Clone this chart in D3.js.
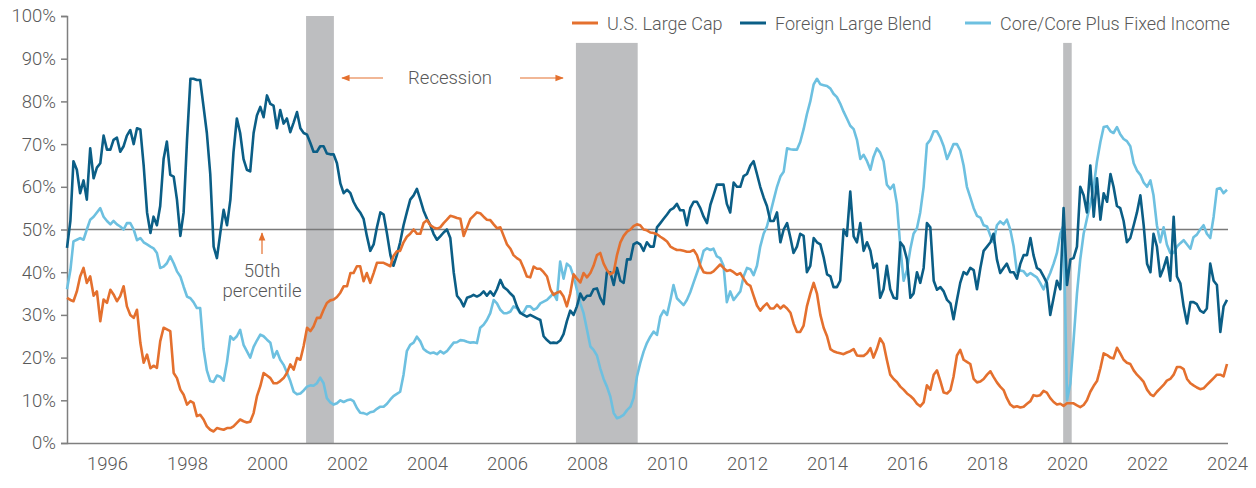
<!DOCTYPE html>
<html><head><meta charset="utf-8">
<script src="https://cdn.jsdelivr.net/npm/d3@7"></script>
<style>
html,body{margin:0;padding:0;background:#fff;}
svg{display:block;font-family:Roboto,"Liberation Sans",sans-serif;font-weight:300;}
</style></head>
<body><svg id="chart" width="1256" height="488"></svg>
<script>
// ---------- DATA ----------
const firstMonth = "1995-01";
const xTickYears = [1996,1998,2000,2002,2004,2006,2008,2010,2012,2014,2016,2018,2020,2022,2024];
const yTicks = [0,10,20,30,40,50,60,70,80,90,100];
const seriesNames = ["U.S. Large Cap","Foreign Large Blend","Core/Core Plus Fixed Income"];

const usLargeCap = [
34,33.5,33.2,35.5,39,41,37.5,39,34.5,35.5,28.5,33.6,
32.8,35.9,34.8,33.2,34.4,36.7,32,30,29.3,31.2,23.4,18.8,
20.7,17.5,18.1,17.6,23.8,27,26.6,26.2,16.4,15.2,12.5,11.3,
9,9.8,9.4,6.3,6.6,5.5,3.9,3.1,2.7,3.5,3.3,3.1,
3.5,3.5,3.9,4.7,5.5,5.1,4.8,5,7,10.9,13.3,16.4,
15.8,15.2,14,14,14.5,15.2,16.4,18.4,17.2,19.9,19.5,22.7,
27,26.2,27.3,29.3,29.3,31.2,32.8,33.4,33.6,34.2,35.2,36.7,
36.7,39.8,39.8,41.4,41.4,37.9,39.8,37.5,39.8,42.2,42.2,42.2,
41.8,41.4,43.8,44.9,45,47,48.3,49,50,49,49,51.5,
52.2,51,50.5,50.2,50.5,51.5,52.3,53.2,53,52.7,52.5,48.5,
50.5,52.5,53.2,54,53.8,53,52.3,52.2,51.2,50.3,50.5,48.5,
46.5,45.5,44,43.3,42.8,41,39,38.8,41.3,40.8,40.8,40,
39,36,34.7,35.2,35.5,34.3,32,35,39.5,38.5,37.6,39.8,
38.8,39.8,41.5,44,44.5,42,40.5,39.5,40,44,47,48.5,
49.5,50,50.8,51.2,51,50,49.8,49.3,49.2,48.9,48.3,47.8,
47.2,46,45.6,45.2,45.2,45,44.8,44.8,45.2,44,41.5,40,
39.8,39.8,40.2,41,41.8,41,40.3,40.5,40,39.4,39.8,38.5,
37.3,36.8,34.5,32.2,31,32,32.7,31.5,31.5,32.4,31.5,32.2,
31.5,30.5,28,26,26,27.5,32,35,37.5,35,30,27,
25,22,21.5,21.2,21,20.8,21.2,21.5,22,20.5,20.4,20.4,
21,22.2,20,22,24.5,23.2,19.5,16,15,14.3,13.2,12.5,
11.6,11,10.3,9.2,8.6,9.5,13.5,12.5,16,17,14.5,11.8,
11.6,12.4,15.5,20.5,21.8,19.5,19,18.5,15,14.2,14.4,15,
16,16.8,15.5,14.2,13.2,12.4,10.5,9,8.4,8.6,8.3,8.5,
9.2,9.8,11.2,11,11.2,12.2,11.8,10.5,9.6,9,9.2,8.7,
9.3,9.3,9.3,8.8,8.4,8.9,10,12,13.4,14.5,17.5,21,
20.6,20,19.8,22.3,21,19.5,18.8,18.5,17,16,15.2,14.3,
12.5,11.4,11,12,12.8,13.6,14.6,15,16,17.8,17.8,17.3,
15,14,13.5,13,12.6,12.8,13.6,14.4,15.2,16,16,15.6,
18.5];

const foreignLargeBlend = [
45.7,52,66,64,58.5,61.5,57,69,62,64.5,65.5,72,
68.7,68.7,71,71.5,68.2,69.5,72,73.3,70,73.7,73.4,65,
54,49.2,53,51,55.5,66.5,70.6,62.8,62.4,57,48.5,54,
71,85.3,85.3,85,85,78.7,72.6,63,46,43.3,49.2,54.6,
51,57,68,76,72.6,66.5,64,63.6,72.6,76.7,78.7,76.3,
81.4,79.4,79,73.7,78,74.8,76,72.8,75.1,77.5,73.7,72.6,
72.2,70.2,68.2,68.2,69.5,69.5,67.8,67.6,67.6,65.5,60.8,58.5,
59.3,58.5,56.5,55,54,52.5,48.5,45,46.5,50.5,54,53.5,
49,44,41.5,44,47,51,54,57,58,59.5,57,54.4,
52.5,51,49,47.6,48.4,49.3,50,48,40,34.5,33.5,32,
34,34.3,34.7,34.3,34.7,35.5,34.5,35.5,34.5,36,38.2,36.5,
35.9,35,34.3,32,30.5,30,29.6,30,29.6,29.2,28.8,25,
24.1,23.4,23.5,23.4,24,25.5,28.5,31,30,32,35,33.5,
34.5,34.5,36,36.2,34,32.5,40,40,37,41,38,37.5,
43,43,46.5,47,46.5,45,47,46,46,50.5,51.5,52.5,
53.5,54.6,55,56,54.5,54.5,51,55,56.5,56.5,55,53,
51.5,55.8,58,60.5,60.5,60.5,56,54,61,60,60,62.5,
63,65,66,63,60,57.5,55.5,52,52,54,47,50,
51.5,48,44.5,46,49,48.5,40,41.5,48,47,46.5,43.5,
39.5,39,36.5,36.5,38,50,48.5,58.9,48.4,47,51.5,45,
47,45,41,42,34,36,41.5,36,34,33.8,47,46,
43,34,35,40,37.5,41,51.5,50.5,38,35.9,36.5,35.5,
33.5,32.7,29,33.5,37.5,40,39.5,41,40.5,36,41,45,
46,47,49,43,39.8,41,42,40,40,38.5,42,44,
44,48,44,41,40.5,39,37.5,30,34,38,36,55,
37,43,43.3,46,60,58,54,65,53,62,52.3,58.5,
56.5,63,60,55.5,55,52,47,48,51,54,58,51,
42,40,49,46,39,41,43.5,38,53,39,37.4,32,
28,33,33,32.5,31,30.5,31.5,42,38,37,26,32,
33.5];

const coreFixedIncome = [
36,40.5,47.2,47.6,48,47.6,50,52.3,53,54,55,53,
52,51.2,52,51.2,50.7,50,51.5,51.5,50,47.5,48,47,
46.5,46,45.6,44.5,41,41.3,42.1,43.7,42.1,40.2,39,36.6,
34.3,33.9,33,31.6,31.6,22,17,14.5,14.3,15.8,15.5,14.6,
19,25,24.2,25,26.5,23,21.5,20,22.5,24,25.4,25,
24.2,23.5,20,21.5,19.5,18.3,16.5,14.5,12,11.4,11.6,12.3,
13.2,13.5,13.4,14,15.3,14,10.5,9.5,9,9.3,10,9.6,
10,10.2,9.8,8.2,7.1,7,6.7,7.2,7.4,8,8.5,8.5,
9.2,10.2,11,11.5,12,16,21.5,23,23.5,24.9,23.8,22,
21.4,21,21.2,20.8,21.5,21,21.5,22.5,23.5,23.6,24.1,24,
23.7,23.5,23.6,23.4,27,27.7,28.8,30.4,33.5,32.7,31.2,30.4,
30.4,30.8,32,31.6,30.4,30.6,32,32,31.2,31.6,32.7,33.1,
33.5,34.3,35.1,33.5,42.5,38.5,42,41.3,39,35.9,32.7,30.4,
26.5,22.6,21.8,20.5,17.5,15,13.2,10.9,7,5.8,6.1,6.6,
7.7,8.5,10.5,15.5,18.7,21.4,23.4,24.9,26.1,25.3,29.6,31,
30,33.5,37,33.9,33.1,32.3,33.5,35.3,37.6,39.8,42.1,45,
45.6,45.2,45.5,43.7,43.3,41.5,33,35.5,33.5,34.5,35.5,39,
41,40.7,39.3,41.5,46,49,50.7,53.8,57,60,62.4,63.5,
69,68.8,68.7,68.7,70.5,73.5,77,80,84,85.3,84,83.8,
83.6,83,81.8,81,79.5,77.6,76,74.3,73.5,71,66.5,67.5,
66,64,67,69,68,66,60.5,59.5,60.5,56,46,38,
40.5,45.5,49,50.3,54,60,70,71,73,73,71.5,69.5,
66.5,68.3,70,70,68.5,65,60,57.5,55,53.2,52.8,51,
50.7,48.5,47,51,51.9,51.2,52.3,50,46,40,40.4,40.2,
39.2,39.8,39.3,38.8,37.5,36,38,39.8,42,44.5,49,51,
10,14,24,35,43,49,52.5,56,60,66,70.5,74,
74.2,73,72.6,74,72.3,71.2,70.7,69.5,65.5,63.8,62.8,61,
60,61.5,58,51,47,50.5,46.5,44.5,44.5,46,46.8,47.5,
46.5,45.5,48.2,48.8,50,51,49,48,53,59.5,59.7,58.5,
59.3];

const recessionStarts = ["2000-12-23","2007-09-22","2019-11-27"];
const recessionEnds   = ["2001-09-03","2009-04-08","2020-02-13"];
const recessionTops   = [100, 93.7, 93.7];
const referenceLevel = 50;

// ---------- CHART ----------
const colors = ["#E4702E","#0B5E86","#6DC0E0"];
const textColor = "#595959";
const axisColor = "#7f7f7f";
const svg = d3.select("#chart");
const mLeft = 67, mRight = 1227, mTop = 16, mBottom = 443;

const parseMonth = d3.timeParse("%Y-%m");
const parseDay = d3.timeParse("%Y-%m-%d");
const startMonth = parseMonth(firstMonth);
const monthDate = i => d3.timeMonth.offset(startMonth, i);

const x = d3.scaleTime().domain([new Date(1995,0,1), new Date(2024,0,1)]).range([mLeft, mRight]);
const y = d3.scaleLinear().domain([0,100]).range([mBottom, mTop]);

// recession bands
svg.append("g").selectAll("rect").data(recessionStarts.map((s,i)=>({s:parseDay(s), e:parseDay(recessionEnds[i]), t:recessionTops[i]})))
  .join("rect")
  .attr("x", d=>x(d.s)).attr("width", d=>x(d.e)-x(d.s))
  .attr("y", d=>y(d.t)).attr("height", d=>y(0)-y(d.t))
  .attr("fill","#BDBEC0");

// 50% reference line
svg.append("line").attr("x1",mLeft).attr("x2",mRight+1)
  .attr("y1",y(referenceLevel)).attr("y2",y(referenceLevel))
  .attr("stroke","#7a7a7a").attr("stroke-width",1.5);

// axes
const yAxis = svg.append("g").attr("transform",`translate(${mLeft},0)`)
  .call(d3.axisLeft(y).tickValues(yTicks).tickFormat(d=>d+"%").tickSize(6).tickPadding(5));
yAxis.selectAll("text").attr("font-size",18.5).attr("fill",textColor).attr("font-family","Roboto").attr("font-weight",300);
yAxis.selectAll("line,path").attr("stroke",axisColor).attr("stroke-width",1.5);

const xAxis = svg.append("g").attr("transform",`translate(0,${mBottom})`)
  .call(d3.axisBottom(x).tickValues(xTickYears.map(yr=>new Date(yr,0,1))).tickFormat(d3.timeFormat("%Y")).tickSize(0).tickPadding(14));
xAxis.selectAll("text").attr("font-size",18.5).attr("fill",textColor).attr("font-family","Roboto").attr("font-weight",300);
xAxis.select(".domain").attr("stroke",axisColor).attr("stroke-width",1.5).attr("d",`M${mLeft},0.5H${mRight+1}`);

// series
const allSeries = [usLargeCap, foreignLargeBlend, coreFixedIncome];
const line = d3.line().x(d=>x(d[0])).y(d=>y(d[1])).curve(d3.curveLinear);
[2,1,0].forEach(k=>{
  const pts = allSeries[k].map((v,i)=>[monthDate(i), v]);
  svg.append("path").datum(pts).attr("d",line)
    .attr("fill","none").attr("stroke",colors[k]).attr("stroke-width",2.6)
    .attr("stroke-linejoin","round");
});

// legend
const legendX = [572, 740, 965];
const lg = svg.append("g");
seriesNames.forEach((n,i)=>{
  lg.append("line").attr("x1",legendX[i]).attr("x2",legendX[i]+26).attr("y1",23).attr("y2",23)
    .attr("stroke",colors[i]).attr("stroke-width",3);
  lg.append("text").attr("x",legendX[i]+35).attr("y",30).text(n)
    .attr("font-size",18).attr("fill",textColor);
});

// annotations
const defs = svg.append("defs");
defs.append("marker").attr("id","ah").attr("viewBox","0 0 10 10").attr("refX",9).attr("refY",5)
  .attr("markerWidth",7).attr("markerHeight",7).attr("orient","auto-start-reverse")
  .append("path").attr("d","M0,1 L10,5 L0,9 z").attr("fill","#E4702E");

svg.append("line").attr("x1",383).attr("y1",78).attr("x2",342).attr("y2",78)
  .attr("stroke","#E4702E").attr("stroke-width",1.2).attr("marker-end","url(#ah)");
svg.append("line").attr("x1",520).attr("y1",78).attr("x2",563).attr("y2",78)
  .attr("stroke","#E4702E").attr("stroke-width",1.2).attr("marker-end","url(#ah)");
svg.append("text").attr("x",450).attr("y",84).attr("text-anchor","middle")
  .attr("font-size",18.5).attr("fill",textColor).text("Recession");

svg.append("line").attr("x1",262).attr("y1",254).attr("x2",262).attr("y2",233)
  .attr("stroke","#E4702E").attr("stroke-width",1.2).attr("marker-end","url(#ah)");
svg.append("text").attr("x",262).attr("y",277).attr("text-anchor","middle")
  .attr("font-size",18.5).attr("fill",textColor).text("50th");
svg.append("text").attr("x",262).attr("y",297).attr("text-anchor","middle")
  .attr("font-size",18.5).attr("fill",textColor).text("percentile");
</script>
</body></html>
